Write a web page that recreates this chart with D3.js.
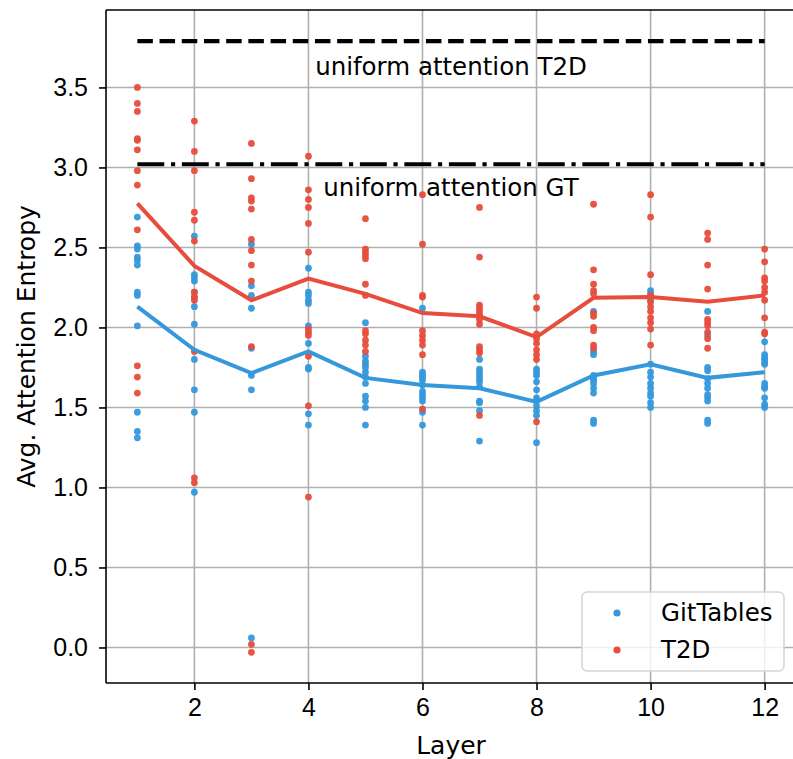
<!DOCTYPE html>
<html>
<head>
<meta charset="utf-8">
<script src="https://cdn.jsdelivr.net/npm/d3@7"></script>
<style>
  body { margin: 0; background: #fff; }
  svg { display: block; font-family: 'DejaVu Sans', sans-serif; }
  .tick text { font-size: 25px; fill: #000; }
</style>
</head>
<body>
<div id="chart"></div>
<script>
// layers on the x axis
const layers = [1, 2, 3, 4, 5, 6, 7, 8, 9, 10, 11, 12];

// per-head entropies for each layer
const gitTables = [
  [2.69, 2.51, 2.49, 2.44, 2.42, 2.39, 2.22, 2.20, 2.01, 1.47, 1.35, 1.31],
  [2.57, 2.33, 2.31, 2.29, 2.22, 2.19, 2.13, 2.02, 1.80, 1.61, 1.47, 0.97],
  [2.52, 2.26, 2.20, 2.12, 1.87, 1.70, 1.61, 0.06],
  [2.37, 2.22, 2.20, 2.17, 2.15, 2.01, 1.90, 1.75, 1.74, 1.46, 1.39],
  [2.03, 1.82, 1.79, 1.77, 1.75, 1.72, 1.69, 1.65, 1.57, 1.54, 1.50, 1.39],
  [2.12, 1.72, 1.70, 1.69, 1.67, 1.64, 1.60, 1.58, 1.56, 1.54, 1.47, 1.39],
  [1.80, 1.74, 1.72, 1.70, 1.68, 1.66, 1.63, 1.54, 1.53, 1.48, 1.29],
  [1.74, 1.72, 1.70, 1.66, 1.61, 1.56, 1.54, 1.51, 1.48, 1.45, 1.28],
  [2.10, 1.85, 1.83, 1.70, 1.68, 1.67, 1.65, 1.62, 1.59, 1.42, 1.40],
  [2.23, 2.21, 2.17, 1.77, 1.72, 1.69, 1.65, 1.62, 1.59, 1.57, 1.53, 1.50],
  [2.10, 1.95, 1.75, 1.73, 1.68, 1.65, 1.62, 1.58, 1.56, 1.54, 1.42, 1.40],
  [1.91, 1.83, 1.81, 1.80, 1.78, 1.77, 1.65, 1.63, 1.62, 1.56, 1.52, 1.50]
];

const t2d = [
  [3.50, 3.40, 3.35, 3.18, 3.17, 3.11, 2.98, 2.89, 2.61, 1.76, 1.69, 1.59],
  [3.29, 3.10, 2.98, 2.72, 2.67, 2.54, 2.22, 2.19, 2.17, 1.85, 1.06, 1.03],
  [3.15, 2.93, 2.81, 2.79, 2.74, 2.55, 2.48, 2.39, 2.29, 1.88, 0.02, -0.03],
  [3.07, 2.86, 2.80, 2.75, 2.65, 2.47, 1.99, 1.97, 1.95, 1.82, 1.51, 0.94],
  [2.68, 2.49, 2.47, 2.45, 2.43, 2.27, 2.20, 1.98, 1.96, 1.92, 1.89, 1.85],
  [2.83, 2.52, 2.20, 2.19, 1.98, 1.95, 1.92, 1.89, 1.83, 1.49],
  [2.75, 2.44, 2.14, 2.12, 2.10, 2.08, 2.05, 2.02, 1.88, 1.86, 1.84, 1.45],
  [2.19, 2.12, 1.96, 1.93, 1.90, 1.86, 1.83, 1.80, 1.41],
  [2.77, 2.36, 2.27, 2.23, 2.21, 2.09, 2.07, 2.00, 1.98, 1.89, 1.87],
  [2.83, 2.69, 2.33, 2.20, 2.16, 2.13, 2.10, 2.06, 2.03, 1.99, 1.89],
  [2.59, 2.55, 2.39, 2.24, 2.05, 2.03, 2.01, 1.97, 1.93, 1.87],
  [2.49, 2.41, 2.31, 2.29, 2.25, 2.22, 2.17, 2.06, 1.97, 1.96]
];

// mean lines
const gitTablesMean = [2.13, 1.86, 1.715, 1.85, 1.685, 1.64, 1.62, 1.535, 1.70, 1.77, 1.685, 1.72];
const t2dMean = [2.775, 2.385, 2.17, 2.305, 2.21, 2.09, 2.07, 1.94, 2.185, 2.19, 2.16, 2.20];

// uniform attention reference levels
const uniformT2D = 3.79;
const uniformGT = 3.02;

const xTicks = [2, 4, 6, 8, 10, 12];
const yTicks = [0, 0.5, 1, 1.5, 2, 2.5, 3, 3.5];

const seriesNames = ['GitTables', 'T2D'];
const colors = ['#3498db', '#e74c3c'];

let w = 793;
let h = 759;
let pLeft = 106, pRight = 796, pTop = 10, pBottom = 683;

let svg = d3.select('#chart').
append('svg').
attr('width', w).
attr('height', h);

svg.append('rect').
attr('width', w).
attr('height', h).
attr('fill', '#fff');

let xScale = d3.scaleLinear().
domain([0.45, 12.55]).
range([pLeft, pRight]);

let yScale = d3.scaleLinear().
domain([-0.222, 3.984]).
range([pBottom, pTop]);

// grid
svg.append('g').
selectAll('line').
data(xTicks).
enter().
append('line').
attr('x1', d => xScale(d)).
attr('x2', d => xScale(d)).
attr('y1', pTop).
attr('y2', pBottom).
attr('stroke', '#b0b0b0').
attr('stroke-width', 1.6);

svg.append('g').
selectAll('line').
data(yTicks).
enter().
append('line').
attr('x1', pLeft).
attr('x2', pRight).
attr('y1', d => yScale(d)).
attr('y2', d => yScale(d)).
attr('stroke', '#b0b0b0').
attr('stroke-width', 1.6);

// axes
let xAxis = d3.axisBottom(xScale).
tickValues(xTicks).
tickFormat(d3.format('d')).
tickSize(7).
tickPadding(8);

let yAxis = d3.axisLeft(yScale).
tickValues(yTicks).
tickFormat(d3.format('.1f')).
tickSize(7).
tickPadding(11);

let gx = svg.append('g').
attr('transform', 'translate(0,' + pBottom + ')').
call(xAxis);

let gy = svg.append('g').
attr('transform', 'translate(' + pLeft + ',0)').
call(yAxis);

[gx, gy].forEach(g => {
  g.select('.domain').remove();
  g.selectAll('.tick line').attr('stroke', '#000').attr('stroke-width', 1.6);
});

svg.append('line').
attr('x1', pLeft).attr('x2', pLeft).
attr('y1', pTop).attr('y2', pBottom).
attr('stroke', '#000').attr('stroke-width', 1.6);
svg.append('line').
attr('x1', pLeft).attr('x2', pRight).
attr('y1', pBottom).attr('y2', pBottom).
attr('stroke', '#000').attr('stroke-width', 1.6);
svg.append('line').
attr('x1', pLeft).attr('x2', pRight).
attr('y1', pTop).attr('y2', pTop).
attr('stroke', '#000').attr('stroke-width', 1.6);

// uniform reference lines
svg.append('line').
attr('x1', xScale(layers[0])).
attr('x2', xScale(layers[layers.length - 1])).
attr('y1', yScale(uniformT2D)).
attr('y2', yScale(uniformT2D)).
attr('stroke', '#000').
attr('stroke-width', 4.2).
attr('stroke-dasharray', '15.5 6.7');

svg.append('line').
attr('x1', xScale(layers[0])).
attr('x2', xScale(layers[layers.length - 1])).
attr('y1', yScale(uniformGT)).
attr('y2', yScale(uniformGT)).
attr('stroke', '#000').
attr('stroke-width', 4.2).
attr('stroke-dasharray', '26.9 6.7 4.2 6.7');

svg.append('text').
text('uniform attention T2D').
attr('x', xScale(6.5)).
attr('y', yScale(3.578)).
attr('text-anchor', 'middle').
attr('font-size', 24.5);

svg.append('text').
text('uniform attention GT').
attr('x', xScale(6.5)).
attr('y', yScale(2.82)).
attr('text-anchor', 'middle').
attr('font-size', 24.5);

// scatter points
[gitTables, t2d].forEach((series, s) => {
  let pts = [];
  series.forEach((vals, i) => vals.forEach(v => pts.push([layers[i], v])));
  svg.append('g').
  selectAll('circle').
  data(pts).
  enter().
  append('circle').
  attr('cx', d => xScale(d[0])).
  attr('cy', d => yScale(d[1])).
  attr('r', 3.4).
  attr('fill', colors[s]).
  attr('fill-opacity', 0.95);
});

// mean lines
let line = d3.line().
x((d, i) => xScale(layers[i])).
y(d => yScale(d));

[gitTablesMean, t2dMean].forEach((m, s) => {
  svg.append('path').
  datum(m).
  attr('d', line).
  attr('fill', 'none').
  attr('stroke', colors[s]).
  attr('stroke-width', 4);
});

// legend
let legend = svg.append('g');
legend.append('rect').
attr('x', 582).
attr('y', 592).
attr('width', 202).
attr('height', 79).
attr('rx', 5).
attr('fill', '#fff').
attr('fill-opacity', 0.8).
attr('stroke', '#d6d6d6').
attr('stroke-width', 1.6);

seriesNames.forEach((name, i) => {
  legend.append('circle').
  attr('cx', 617).
  attr('cy', 613 + i * 37).
  attr('r', 3.6).
  attr('fill', colors[i]);
  legend.append('text').
  text(name).
  attr('x', 661).
  attr('y', 621 + i * 37).
  attr('font-size', 24.5);
});

// axis labels
svg.append('text').
text('Layer').
attr('x', (pLeft + pRight) / 2).
attr('y', 754).
attr('text-anchor', 'middle').
attr('font-size', 25);

svg.append('text').
text('Avg. Attention Entropy').
attr('transform', 'translate(35,' + ((pTop + pBottom) / 2) + ') rotate(-90)').
attr('text-anchor', 'middle').
attr('font-size', 25);
</script>
</body>
</html>
